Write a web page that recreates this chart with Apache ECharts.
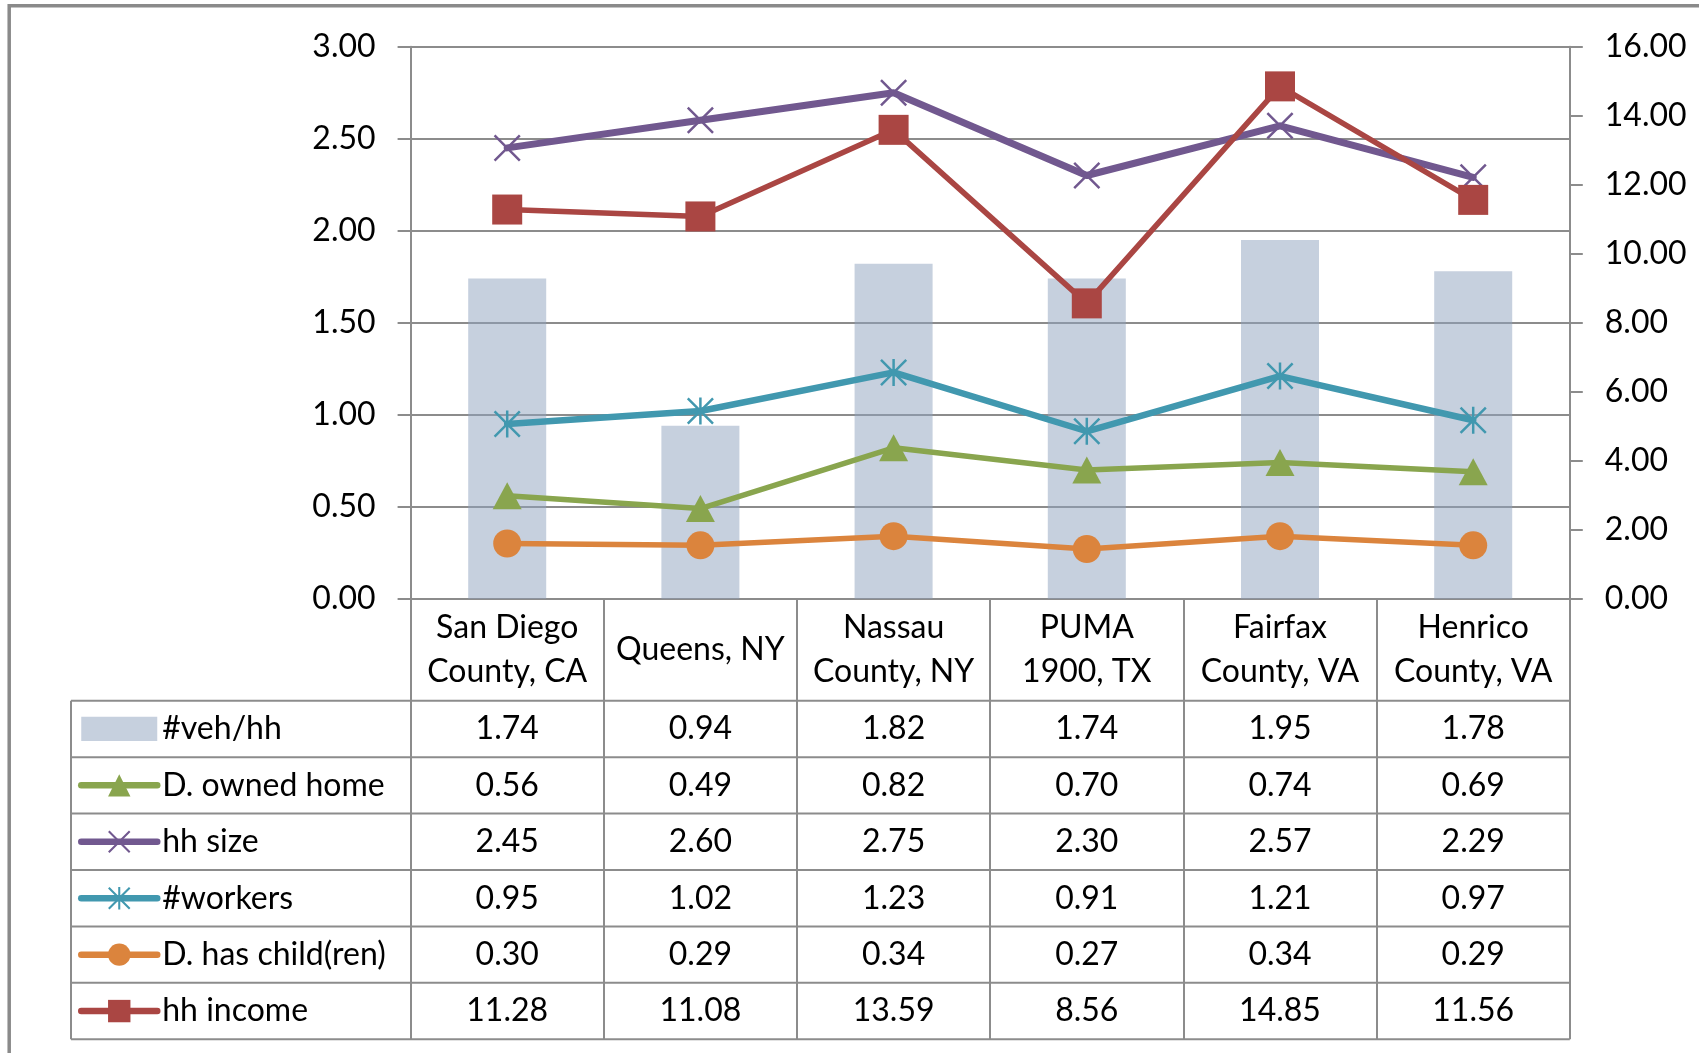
<!DOCTYPE html>
<html>
<head>
<meta charset="utf-8">
<title>Household characteristics by area</title>
<script src="https://cdn.jsdelivr.net/npm/echarts@6/dist/echarts.min.js"></script>
<style>
  html, body { margin: 0; padding: 0; background: #fff; }
  #chart { width: 1699px; height: 1053px; }
</style>
</head>
<body>
<div id="chart"></div>
<script>
// ---- data ----
const categories = ['San Diego\nCounty, CA', 'Queens, NY', 'Nassau\nCounty, NY', 'PUMA\n1900, TX', 'Fairfax\nCounty, VA', 'Henrico\nCounty, VA'];
const vehPerHh    = [1.74, 0.94, 1.82, 1.74, 1.95, 1.78];
const ownedHome   = [0.56, 0.49, 0.82, 0.70, 0.74, 0.69];
const hhSize      = [2.45, 2.60, 2.75, 2.30, 2.57, 2.29];
const workers     = [0.95, 1.02, 1.23, 0.91, 1.21, 0.97];
const hasChildren = [0.30, 0.29, 0.34, 0.27, 0.34, 0.29];
const hhIncome    = [11.28, 11.08, 13.59, 8.56, 14.85, 11.56];
const leftTicks  = { min: 0, max: 3, interval: 0.5 };
const rightTicks = { min: 0, max: 16, interval: 2 };
const rowNames = ['#veh/hh', 'D. owned home', 'hh size', '#workers', 'D. has child(ren)', 'hh income'];
const rowValues = [vehPerHh, ownedHome, hhSize, workers, hasChildren, hhIncome];

// ---- layout & style ----
const W = 1699, H = 1053;
const FONT = 'Lato';
const FS = 32;
const TEXT = '#000';
const RULE = '#8c8c8c';
const GRID = { left: 410.6, right: 129.2, top: 46.7, bottom: 454.3 };
const HEADER_H = 102;
const ROW_H = 56.43;
const TABLE_LEFT = 71;
const plotBottom = H - GRID.bottom;
const tableTop = plotBottom + HEADER_H;
const tableBottom = tableTop + ROW_H * rowNames.length;

const C = {
  bar: 'rgba(142,162,190,0.5)',
  green: '#89A54E',
  purple: '#71588F',
  teal: '#4198AF',
  orange: '#DB843D',
  red: '#AA4643'
};

// cross and asterisk markers as filled outlines
const X_PATH = 'path://M0,6.5L6.5,0L50,43.5L93.5,0L100,6.5L56.5,50L100,93.5L93.5,100L50,56.5L6.5,100L0,93.5L43.5,50Z';
const STAR_PATH = X_PATH + 'M45.4,0L54.6,0L54.6,100L45.4,100Z';

function lineSeries(name, data, color, width, symbol, size, axis) {
  return {
    name, type: 'line', data, yAxisIndex: axis || 0,
    symbol, symbolSize: size, showSymbol: true,
    lineStyle: { color, width, cap: 'round', join: 'round' },
    itemStyle: { color, borderWidth: 0 },
    emphasis: { disabled: true },
    z: 3
  };
}

const chart = echarts.init(document.getElementById('chart'), null, { renderer: 'canvas' });

const axisText = { fontFamily: FONT, fontSize: FS, color: TEXT };
const keyLine = { width: 6.5, cap: 'round' };

chart.setOption({
  animation: false,
  backgroundColor: '#fff',
  textStyle: { fontFamily: FONT },
  grid: Object.assign({ outerBoundsMode: 'none', containLabel: false }, GRID),
  xAxis: {
    type: 'category',
    data: categories,
    boundaryGap: true,
    axisLine: { show: true, lineStyle: { color: RULE, width: 2 } },
    axisTick: { show: true, interval: 0, inside: false, length: tableBottom - plotBottom, lineStyle: { color: RULE, width: 2 } },
    axisLabel: Object.assign({ interval: 0, margin: HEADER_H / 2, lineHeight: 44, verticalAlign: 'middle', align: 'center' }, axisText),
    splitLine: { show: false }
  },
  yAxis: [
    {
      type: 'value', position: 'left',
      min: leftTicks.min, max: leftTicks.max, interval: leftTicks.interval,
      axisLine: { show: true, lineStyle: { color: RULE, width: 2 } },
      axisTick: { show: true, inside: false, length: 13, lineStyle: { color: RULE, width: 2 } },
      axisLabel: Object.assign({ margin: 35, formatter: v => v.toFixed(2) }, axisText),
      splitLine: { show: true, lineStyle: { color: RULE, width: 2 } }
    },
    {
      type: 'value', position: 'right',
      min: rightTicks.min, max: rightTicks.max, interval: rightTicks.interval,
      axisLine: { show: true, lineStyle: { color: RULE, width: 2 } },
      axisTick: { show: true, inside: false, length: 13, lineStyle: { color: RULE, width: 2 } },
      axisLabel: Object.assign({ margin: 35, formatter: v => v.toFixed(2) }, axisText),
      splitLine: { show: false }
    }
  ],
  legend: {
    orient: 'vertical',
    left: 78,
    top: tableTop + ROW_H / 2 - 16,
    padding: 0,
    itemWidth: 76,
    itemHeight: 28,
    itemGap: ROW_H - 32,
    selectedMode: false,
    textStyle: { fontFamily: FONT, fontSize: FS, lineHeight: 32, color: TEXT },
    itemStyle: { borderWidth: 0 },
    lineStyle: keyLine,
    data: [
      { name: rowNames[0], icon: 'path://M0,0L72,0L72,23L0,23Z' },
      { name: rowNames[1], lineStyle: keyLine },
      { name: rowNames[2], lineStyle: keyLine },
      { name: rowNames[3], lineStyle: keyLine },
      { name: rowNames[4], lineStyle: keyLine },
      { name: rowNames[5], lineStyle: keyLine }
    ]
  },
  series: [
    {
      name: rowNames[0], type: 'bar', data: vehPerHh, yAxisIndex: 0,
      barWidth: 78,
      itemStyle: { color: C.bar },
      emphasis: { disabled: true },
      z: 2
    },
    lineSeries(rowNames[1], ownedHome, C.green, 5.5, 'triangle', [29, 27]),
    lineSeries(rowNames[2], hhSize, C.purple, 7, X_PATH, 27),
    lineSeries(rowNames[3], workers, C.teal, 6.5, STAR_PATH, 27),
    lineSeries(rowNames[4], hasChildren, C.orange, 5.5, 'circle', 28),
    lineSeries(rowNames[5], hhIncome, C.red, 5.5, 'rect', 30, 1)
  ]
});

// ---- data table under the category axis ----
function drawTable() {
  const plotRight = W - GRID.right;
  const g = [];
  // outer frame (runs off the right and bottom edges)
  g.push({
    type: 'rect', silent: true, z: 10,
    shape: { x: 9.2, y: 5.8, width: W + 100, height: H + 100 },
    style: { fill: 'none', stroke: '#8a8a8a', lineWidth: 3.5 }
  });
  // horizontal rules
  for (let i = 0; i <= rowNames.length; i++) {
    const y = tableTop + i * ROW_H;
    g.push({
      type: 'line', silent: true,
      shape: { x1: TABLE_LEFT, y1: y, x2: plotRight, y2: y },
      style: { stroke: RULE, lineWidth: 2 }
    });
  }
  // left edge of the table
  g.push({
    type: 'line', silent: true,
    shape: { x1: TABLE_LEFT, y1: tableTop, x2: TABLE_LEFT, y2: tableBottom },
    style: { stroke: RULE, lineWidth: 2 }
  });
  // cell values
  rowValues.forEach((vals, r) => {
    const cy = tableTop + (r + 0.5) * ROW_H;
    vals.forEach((v, c) => {
      const cx = chart.convertToPixel({ xAxisIndex: 0 }, c);
      g.push({
        type: 'text', silent: true,
        x: cx, y: cy,
        style: {
          text: v.toFixed(2), fontFamily: FONT, fontSize: FS, fill: TEXT,
          align: 'center', verticalAlign: 'middle'
        }
      });
    });
  });
  chart.setOption({ graphic: { elements: g } });
}
drawTable();
</script>
</body>
</html>
